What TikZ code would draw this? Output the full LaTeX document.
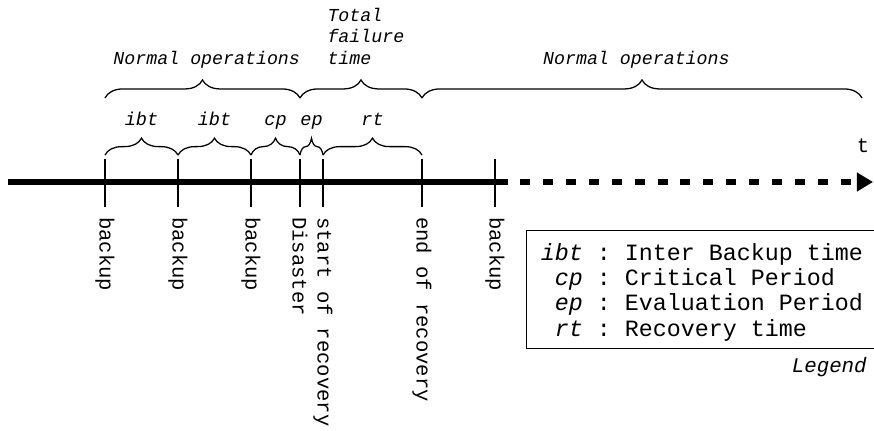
\documentclass[tikz,border=0pt]{standalone}
\usepackage{fontspec}
\setmainfont{Liberation Mono}
\usepackage{tikz}
\usetikzlibrary{arrows.meta,decorations.pathreplacing,calc}
\tikzset{
  axis_solid/.style={line width=3.6pt},
  axis_dash/.style={line width=3.6pt,dash pattern=on 7.1pt off 9.2pt,
    -{Triangle[length=11.4pt,width=12.8pt]}},
  tick_line/.style={line width=1pt},
  brace_small/.style={decorate,decoration={brace,amplitude=12pt,raise=2.8pt},line width=0.9pt},
  brace_big/.style={decorate,decoration={brace,amplitude=12.8pt,raise=43.4pt},line width=0.9pt},
  lbl_small/.style={anchor=south,inner sep=0pt,text depth=0pt,yshift=23.5pt,
    font=\fontsize{13.2}{15.3}\selectfont\itshape},
  lbl_big/.style={anchor=south,inner sep=0pt,text depth=0pt,yshift=66.9pt,align=left,
    font=\fontsize{13}{15.3}\selectfont\itshape},
  lbl_vert/.style={rotate=-90,anchor=west,inner xsep=7pt,inner ysep=0pt,
    font=\fontsize{14.6}{17}\selectfont},
  legend_box/.style={draw,line width=1pt,anchor=north west,inner xsep=10pt,inner ysep=3.3pt,
    font=\fontsize{16.6}{17.9}\selectfont},
}
\begin{document}
\begin{tikzpicture}[x=0.025cm,y=-0.025cm]
  \useasboundingbox (0,0) rectangle (874,431);

  \coordinate (ax0) at (8,182);
  \coordinate (ax1) at (508,182);
  \coordinate (ax2) at (520,182);
  \coordinate (ax3) at (873,182);
  \draw[axis_solid] (ax0) -- (ax1);
  \draw[axis_dash] (ax2) -- (ax3);
  \node[anchor=base,inner sep=0pt,font=\fontsize{14.6}{17}\selectfont] (tlbl) at (863,153) {t};

  \foreach \n/\x in {b1/105,b2/178,b3/251,dis/300,sor/323,eor/422,b4/495}{
    \coordinate (\n-top) at (\x,159);
    \coordinate (\n-bot) at (\x,207);
    \draw[tick_line] (\n-top) -- (\n-bot);
  }

  \node[lbl_vert] (l_b1) at (b1-bot) {backup};
  \node[lbl_vert] (l_b2) at (b2-bot) {backup};
  \node[lbl_vert] (l_b3) at (b3-bot) {backup};
  \node[lbl_vert] (l_dis) at (dis-bot) {Disaster};
  \node[lbl_vert] (l_sor) at (sor-bot) {start of recovery};
  \node[lbl_vert] (l_eor) at (eor-bot) {end of recovery};
  \node[lbl_vert] (l_b4) at (b4-bot) {backup};

  \draw[brace_small] (b1-top) -- node[lbl_small] {ibt} (b2-top);
  \draw[brace_small] (b2-top) -- node[lbl_small] {ibt} (b3-top);
  \draw[brace_small] (b3-top) -- node[lbl_small] {cp} (dis-top);
  \draw[brace_small] (dis-top) -- node[lbl_small] {ep} (sor-top);
  \draw[brace_small] (sor-top) -- node[lbl_small] {rt} (eor-top);

  \coordinate (n2-end) at (862,159);
  \draw[brace_big] (b1-top) -- node[lbl_big,xshift=3pt] {Normal operations} (dis-top);
  \draw[brace_big] (dis-top) -- node[lbl_big,xshift=3.5pt] {Total\\failure\\time} (eor-top);
  \draw[brace_big] (eor-top) -- node[lbl_big,xshift=-4pt] {Normal operations} (n2-end);

  \node[legend_box] (legend) at (526,230) {\begin{tabular}{@{}r@{~:~}l@{\hspace{30pt}}}
    \rule{0pt}{18pt}\textit{ibt} & Inter Backup time\\
    \textit{cp} & Critical Period\\
    \textit{ep} & Evaluation Period\\
    \textit{rt} & Recovery time
  \end{tabular}};
  \node[anchor=base east,inner sep=0pt,font=\fontsize{14.8}{17}\selectfont\itshape] (legcap) at (867,372) {Legend};
\end{tikzpicture}
\end{document}
